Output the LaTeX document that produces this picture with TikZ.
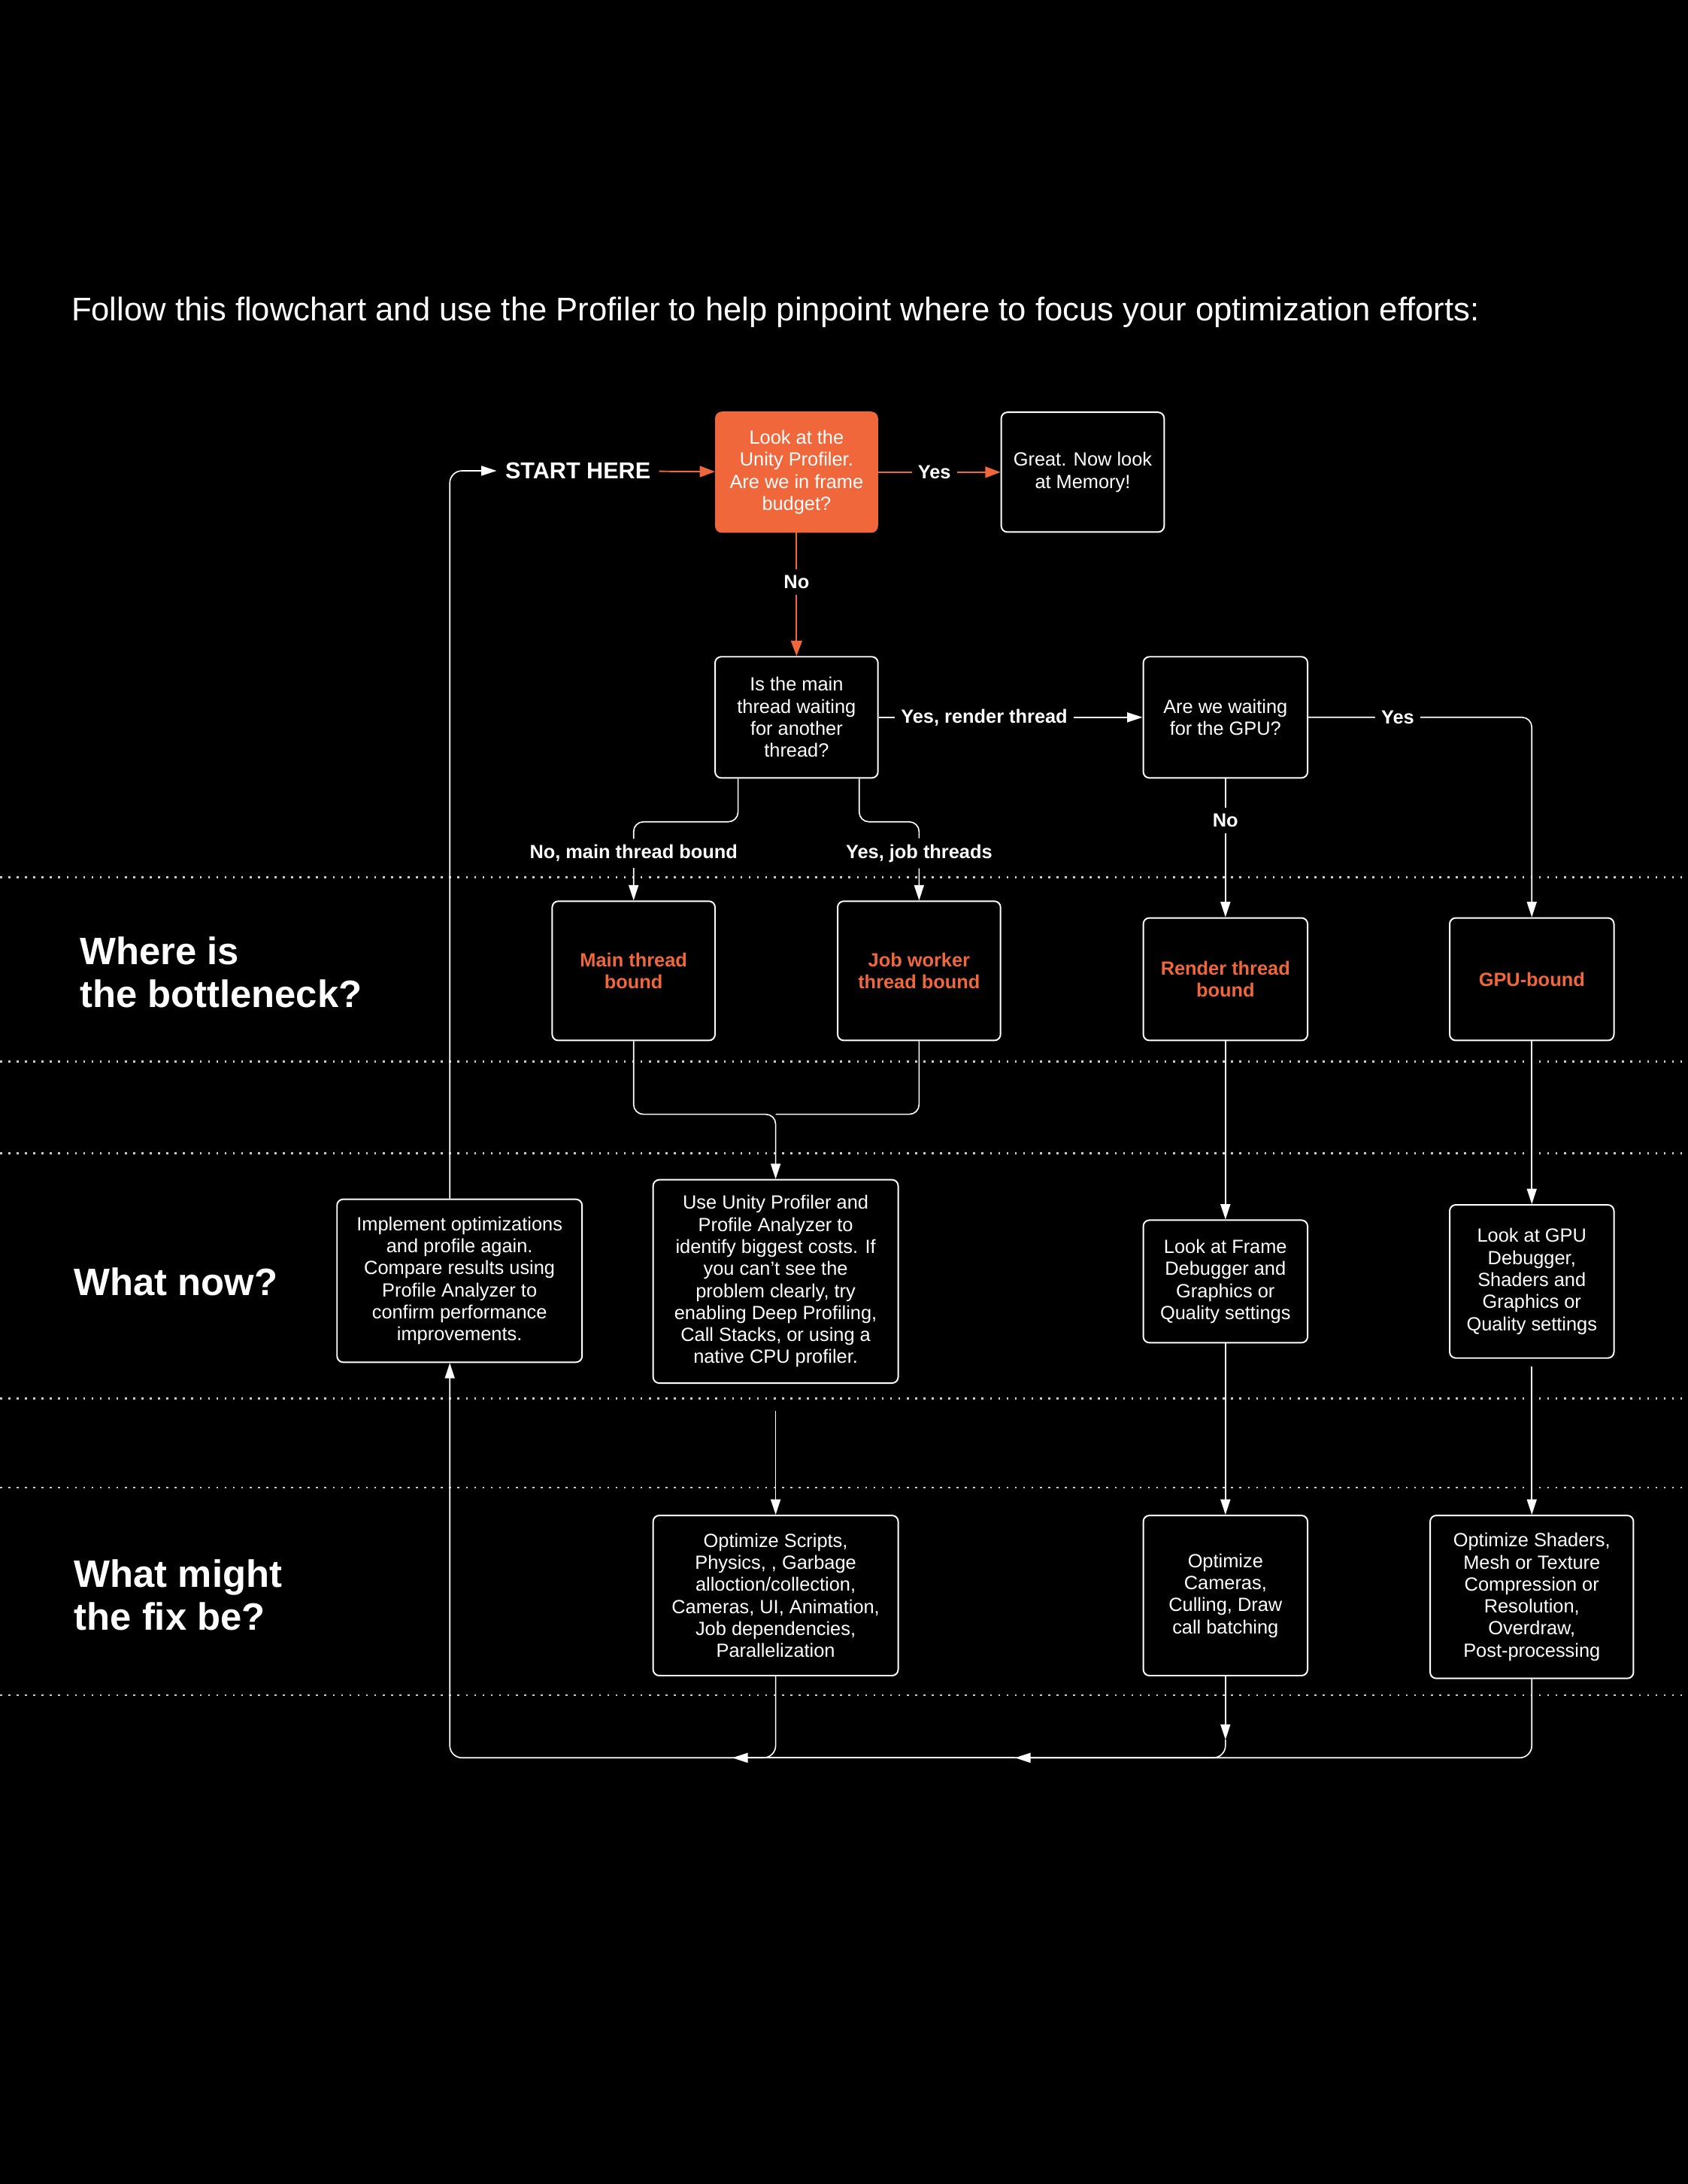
\documentclass[tikz,border=0pt]{standalone}
\usepackage{fontspec}
\setmainfont{Liberation Sans}
\usetikzlibrary{arrows.meta}
\definecolor{unityOrange}{HTML}{F0673C}

\begin{document}
\begin{tikzpicture}
            [x=0.02cm, y=-0.02cm,
             myBox/.style={rectangle,
                        draw=white,
                        line width=0.6pt,
                        rounded corners=2.5pt,
                        align=center,
                        text=white,
                        inner sep=1mm,
                        font=\fontsize{7.8}{9}\selectfont},
             boundBox/.style={myBox, text=unityOrange, font=\fontsize{7.8}{9}\selectfont\bfseries},
             edgeLabel/.style={fill=black, text=white, inner sep=2.5pt, font=\fontsize{7.8}{9}\selectfont\bfseries},
             sectionLabel/.style={anchor=west, align=left, inner sep=0pt, text=white, font=\fontsize{15.6}{17.6}\selectfont\bfseries},
             myArrow/.style={-{Triangle[length=0.22cm, width=0.14cm]}, white, line width=0.5pt},
             myLine/.style={white, line width=0.5pt},
             orangeArrow/.style={-{Triangle[length=0.22cm, width=0.16cm]}, unityOrange, line width=0.6pt},
             sectionLine/.style={white!80!black, line width=0.8pt, dash pattern=on 0.8pt off 2.6pt}]

            \fill[black] (0,0) rectangle (1212,1568);
            \useasboundingbox (0,0) rectangle (1212,1568);

            \node[anchor=west, inner sep=0pt, text=white, font=\fontsize{13.4}{16}\selectfont] (title) at (51,224) {Follow this flowchart and use the Profiler to help pinpoint where to focus your optimization efforts:};

            \foreach \y in {630,762,828,1004,1068,1217}
                \draw[sectionLine] (0,\y) -- (1212,\y);

            \node[sectionLabel] (whereLabel) at (57,698) {Where is\\the bottleneck?};
            \node[sectionLabel] (nowLabel) at (53,920) {What now?};
            \node[sectionLabel] (fixLabel) at (53,1145) {What might\\the fix be?};

            \node[text=white, font=\fontsize{9.4}{11}\selectfont\bfseries] (startHere) at (415,338) {START HERE};
            \node[myBox, fill=unityOrange, draw=unityOrange, minimum width=2.32cm, minimum height=1.72cm] (start) at (572,339) {Look at the\\Unity Profiler.\\Are we in frame\\budget?};
            \node[myBox, minimum width=2.34cm, minimum height=1.72cm] (memory) at (777.5,339) {Great. Now look\\at Memory!};
            \node[myBox, minimum width=2.34cm, minimum height=1.74cm] (mainQuestion) at (572,515) {Is the main\\thread waiting\\for another\\thread?};
            \node[myBox, minimum width=2.36cm, minimum height=1.74cm] (gpuQuestion) at (880,515) {Are we waiting\\for the GPU?};

            \node[boundBox, minimum width=2.34cm, minimum height=2.0cm] (mainBound) at (455,697) {Main thread\\bound};
            \node[boundBox, minimum width=2.34cm, minimum height=2.0cm] (jobBound) at (660,697) {Job worker\\thread bound};
            \node[boundBox, minimum width=2.36cm, minimum height=1.76cm] (renderBound) at (880,703) {Render thread\\bound};
            \node[boundBox, minimum width=2.36cm, minimum height=1.76cm] (gpuBound) at (1100,703) {GPU-bound};

            \node[myBox, minimum width=3.52cm, minimum height=2.34cm] (implement) at (330,919.5) {Implement optimizations\\and profile again.\\Compare results using\\Profile Analyzer to\\confirm performance\\improvements.};
            \node[myBox, minimum width=3.52cm, minimum height=2.92cm] (useProfiler) at (557,920) {Use Unity Profiler and\\Profile Analyzer to\\identify biggest costs. If\\you can't see the\\problem clearly, try\\enabling Deep Profiling,\\Call Stacks, or using a\\native CPU profiler.};
            \node[myBox, minimum width=2.36cm, minimum height=1.76cm] (frameDebugger) at (880,920) {Look at Frame\\Debugger and\\Graphics or\\Quality settings};
            \node[myBox, minimum width=2.36cm, minimum height=2.2cm] (gpuDebugger) at (1100,920) {Look at GPU\\Debugger,\\Shaders and\\Graphics or\\Quality settings};

            \node[myBox, minimum width=3.52cm, minimum height=2.3cm] (optScripts) at (557,1145.5) {Optimize Scripts,\\Physics, , Garbage\\alloction/collection,\\Cameras, UI, Animation,\\Job dependencies,\\Parallelization};
            \node[myBox, minimum width=2.36cm, minimum height=2.3cm] (optCameras) at (880,1145.5) {Optimize\\Cameras,\\Culling, Draw\\call batching};
            \node[myBox, minimum width=2.92cm, minimum height=2.34cm] (optShaders) at (1100,1146.5) {Optimize Shaders,\\Mesh or Texture\\Compression or\\Resolution,\\Overdraw,\\Post-processing};

            \coordinate (mergePoint) at (557,800);
            \coordinate (useOut) at (557,1013);
            \coordinate (gpuOut) at (1100,981);
            \coordinate (camTip) at (880,1249);
            \coordinate (loopRight) at (729,1262);
            \coordinate (loopLeft) at (526,1262);
            \coordinate (implIn) at ([xshift=-0.14cm]implement.south);
            \coordinate (implOut) at ([xshift=-0.14cm]implement.north);

            \draw [orangeArrow] (startHere) to (start);
            \draw [orangeArrow] (start) to node [edgeLabel, pos=0.46] {Yes} (memory);
            \draw [orangeArrow] (start) to node [edgeLabel, pos=0.4] {No} (mainQuestion);
            \draw [myArrow] (mainQuestion) to node [edgeLabel, pos=0.4] {Yes, render thread} (gpuQuestion);
            \draw [myArrow, rounded corners=4pt] (gpuQuestion.east) -| node [edgeLabel, pos=0.2] {Yes} (gpuBound);
            \draw [myArrow] (gpuQuestion) to node [edgeLabel, pos=0.3] {No} (renderBound);
            \draw [myArrow, rounded corners=4pt] ([xshift=-0.84cm]mainQuestion.south) -- ++(0,31) -| node [edgeLabel, pos=0.7] {No, main thread bound} (mainBound);
            \draw [myArrow, rounded corners=4pt] ([xshift=0.9cm]mainQuestion.south) -- ++(0,31) -| node [edgeLabel, pos=0.7] {Yes, job threads} (jobBound);

            \draw [myArrow, rounded corners=4pt] (mainBound) |- (mergePoint) -- (useProfiler);
            \draw [myLine, rounded corners=4pt] (jobBound) |- (mergePoint);
            \draw [myArrow] (renderBound) to (frameDebugger);
            \draw [myArrow] (gpuBound) to (gpuDebugger);

            \draw [myArrow] (useOut) to (optScripts);
            \draw [myArrow] (frameDebugger) to (optCameras);
            \draw [myArrow] (gpuOut) to (optShaders);

            \draw [myArrow, rounded corners=5pt] (optShaders) |- (loopRight);
            \draw [myArrow] (loopRight) to (loopLeft);
            \draw [myArrow, rounded corners=5pt] (loopLeft) -| (implIn);
            \draw [myLine, rounded corners=5pt] (optScripts) |- (loopLeft);
            \draw [myArrow] (optCameras) to (camTip);
            \draw [myLine, rounded corners=5pt] (camTip) |- (loopRight);
            \draw [myArrow, rounded corners=5pt] (implOut) |- (startHere);
        \end{tikzpicture}
\end{document}
